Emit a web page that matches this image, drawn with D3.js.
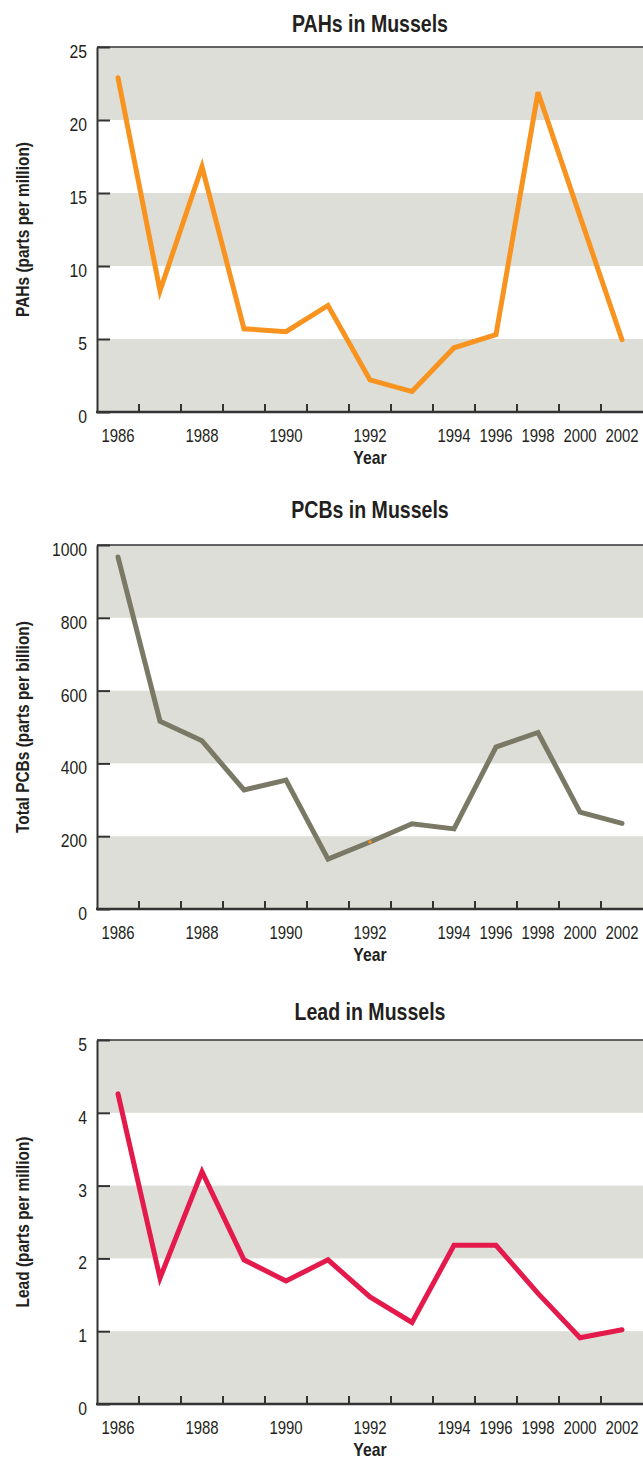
<!DOCTYPE html>
<html>
<head>
<meta charset="utf-8">
<script src="https://cdn.jsdelivr.net/npm/d3@7"></script>
<style>
  html, body { margin: 0; padding: 0; background: #fff; }
  svg { display: block; }
  text { font-family: "Liberation Sans", Arial, sans-serif; fill: #231f20; }
</style>
</head>
<body>
<script>
// ---- Data ----
const years = [1986, 1987, 1988, 1989, 1990, 1991, 1992, 1993, 1994, 1996, 1998, 2000, 2002];
const yearLabels = ["1986", "", "1988", "", "1990", "", "1992", "", "1994", "1996", "1998", "2000", "2002"];
const pahValues = [22.9, 8.3, 16.8, 5.7, 5.5, 7.3, 2.2, 1.4, 4.4, 5.3, 21.9, 13.4, 4.95];
const pcbValues = [967, 516, 462, 327, 354, 137, 184, 234, 220, 445, 485, 266, 235];
const leadValues = [4.26, 1.73, 3.19, 1.98, 1.69, 1.98, 1.47, 1.12, 2.18, 2.18, 1.52, 0.91, 1.02];
const pahTicks = [0, 5, 10, 15, 20, 25];
const pcbTicks = [0, 200, 400, 600, 800, 1000];
const leadTicks = [0, 1, 2, 3, 4, 5];

const W = 643, H = 1459;
const SX = 0.83; // condensed look
const svg = d3.select("body").append("svg").attr("width", W).attr("height", H);

function ctext(parent, x, y, str, opts) {
  const o = Object.assign({ size: 17, weight: "normal", anchor: "middle", rotate: 0, sx: SX, dy: null }, opts || {});
  const g = parent.append("g").attr("transform", `translate(${x},${y}) rotate(${o.rotate}) scale(${o.sx},1)`);
  const t = g.append("text").attr("text-anchor", o.anchor).attr("font-size", o.size)
    .attr("font-weight", o.weight).text(str);
  if (o.dy) t.attr("dy", o.dy);
  return t;
}

const panels = [
  { title: "PAHs in Mussels", ylabel: "PAHs (parts per million)", values: pahValues, ticks: pahTicks,
    color: "#f7931e", top: 47, bottom: 412, titleY: 32 },
  { title: "PCBs in Mussels", ylabel: "Total PCBs (parts per billion)", values: pcbValues, ticks: pcbTicks,
    color: "#7a7965", top: 545, bottom: 909, titleY: 518, dot: 6 },
  { title: "Lead in Mussels", ylabel: "Lead (parts per million)", values: leadValues, ticks: leadTicks,
    color: "#e31a4b", top: 1040, bottom: 1404, titleY: 1020 }
];

const left = 97, right = 643;
const x = d3.scaleBand().domain(years).range([left, right]).paddingInner(0).paddingOuter(0);

panels.forEach(p => {
  const g = svg.append("g");
  const y = d3.scaleLinear().domain([p.ticks[0], p.ticks[p.ticks.length - 1]]).range([p.bottom, p.top]);

  // alternating bands
  for (let i = 0; i < p.ticks.length - 1; i++) {
    if (i % 2 === 0) {
      g.append("rect")
        .attr("x", left).attr("width", right - left)
        .attr("y", y(p.ticks[i + 1])).attr("height", y(p.ticks[i]) - y(p.ticks[i + 1]))
        .attr("fill", "#deded8");
    }
  }
  // top border
  g.append("line").attr("x1", left).attr("x2", right)
    .attr("y1", p.top).attr("y2", p.top)
    .attr("stroke", "#333").attr("stroke-width", 1.6);

  // y axis (ticks inward), labels drawn as condensed text
  const ya = d3.axisLeft(y).tickValues(p.ticks).tickSizeInner(-13).tickSizeOuter(0).tickFormat(() => "");
  const yg = g.append("g").attr("transform", `translate(${left},0)`).call(ya);
  yg.select(".domain").attr("stroke", "#333").attr("stroke-width", 2);
  yg.selectAll(".tick line").attr("stroke", "#333").attr("stroke-width", 2);
  p.ticks.forEach(t => {
    ctext(g, left - 10, y(t), String(t), { size: 19, anchor: "end", dy: "0.58em" });
  });

  // x axis: ticks at band boundaries, labels at band centres
  const xg = g.append("g");
  xg.append("line").attr("x1", left - 1).attr("x2", right)
    .attr("y1", p.bottom).attr("y2", p.bottom)
    .attr("stroke", "#333").attr("stroke-width", 2.5);
  years.slice(1).forEach(yr => {
    xg.append("line").attr("x1", x(yr)).attr("x2", x(yr))
      .attr("y1", p.bottom).attr("y2", p.bottom - 8)
      .attr("stroke", "#333").attr("stroke-width", 2);
  });
  years.forEach((yr, i) => {
    if (!yearLabels[i]) return;
    ctext(xg, x(yr) + x.bandwidth() / 2, p.bottom + 30, yearLabels[i], { size: 18 });
  });

  // line
  const line = d3.line().x((d, i) => x(years[i]) + x.bandwidth() / 2).y(d => y(d));
  g.append("path").datum(p.values).attr("d", line)
    .attr("fill", "none").attr("stroke", p.color).attr("stroke-width", 5)
    .attr("stroke-linecap", "round").attr("stroke-linejoin", "miter");

  if (p.dot !== undefined) {
    g.append("circle").attr("cx", x(years[p.dot]) + x.bandwidth() / 2).attr("cy", y(p.values[p.dot]))
      .attr("r", 1.8).attr("fill", "#f7931e");
  }

  // titles
  ctext(g, (left + right) / 2, p.titleY, p.title, { size: 23, weight: "bold", sx: 0.85 });
  ctext(g, (left + right) / 2, p.bottom + 52, "Year", { size: 19, weight: "bold" });
  ctext(g, 29, (p.top + p.bottom) / 2, p.ylabel, { size: 18, weight: "bold", rotate: -90, sx: 0.86 });
});
</script>
</body>
</html>
